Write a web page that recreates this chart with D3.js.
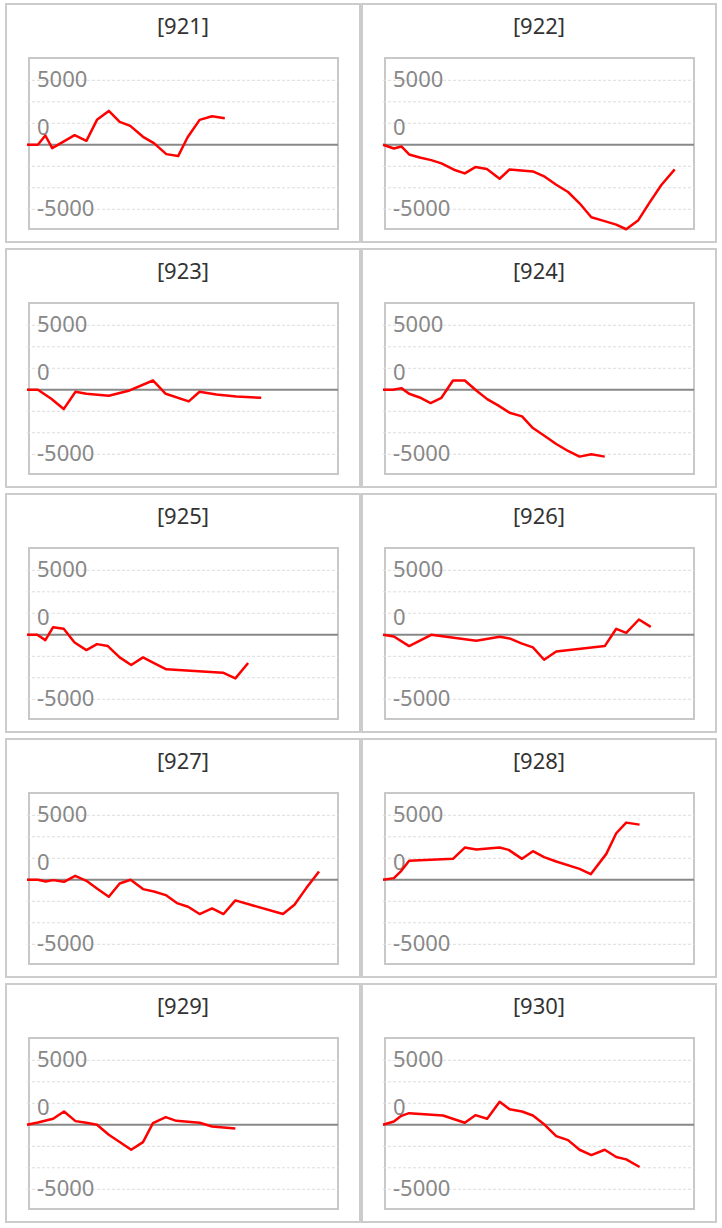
<!DOCTYPE html>
<html><head><meta charset="utf-8">
<script src="https://cdn.jsdelivr.net/npm/d3@7"></script>
<style>body{margin:0;background:#fff}svg{display:block}</style>
</head><body>
<svg id="chart" width="722" height="1228"></svg>
<script>
// ---- data ----
const panelIds = ["921","922","923","924","925","926","927","928","929","930"];
const tickValues = [5000, 0, -5000];
const gridValues = [5000, 3333, 1667, -1667, -3333, -5000];

const x921 = [0,3.5,5.9,8.1,11.6,15.3,19.1,22.5,26.3,29.8,33.2,37.3,40.8,44.8,48.6,51.6,55.5,59.5,63.6];
const y921 = [0,0,722,-258,232,747,309,1933,2629,1778,1469,619,129,-722,-876,567,1933,2216,2062];

const x922 = [0,3.5,5.9,8.4,11.8,15.5,18.8,22.8,26.3,29.7,33.4,37.5,40.7,48.2,52.0,55.7,59.5,63.2,67.0,70.7,75.0,78.2,82.0,85.7,89.5,93.8];
const y922 = [0,-284,-129,-747,-979,-1186,-1443,-1933,-2216,-1727,-1881,-2629,-1907,-2062,-2474,-3093,-3660,-4536,-5619,-5876,-6186,-6546,-5876,-4485,-3119,-1907];

const x923 = [0,3.5,7.8,11.8,15.6,19.1,26.3,33.0,40.5,44.6,52.0,55.5,60.9,67.3,75.3];
const y923 = [0,0,-696,-1495,-155,-309,-464,-52,722,-309,-902,-155,-361,-515,-619];

const x924 = [0,3.2,5.9,8.4,11.8,15.3,18.8,22.5,26.3,30.0,33.5,37.0,40.7,44.7,48.2,52.0,55.7,59.5,63.2,67.0,71.3];
const y924 = [0,0,129,-309,-593,-1031,-619,722,722,-52,-722,-1211,-1778,-2062,-2964,-3582,-4201,-4742,-5180,-5000,-5180];

const x925 = [0,3.3,5.9,8.4,11.8,15.3,19.1,22.5,26.0,29.8,33.5,37.3,41.0,44.8,63.0,67.0,71.1];
const y925 = [0,0,-412,593,464,-593,-1186,-722,-876,-1753,-2345,-1753,-2216,-2680,-2938,-3376,-2191];

const x926 = [0,3.5,8.4,15.5,30.0,37.5,40.7,44.5,48.2,51.8,55.7,71.3,75.0,78.2,82.3,86.1];
const y926 = [0,-129,-876,0,-464,-155,-284,-670,-979,-1933,-1289,-876,464,155,1186,619];

const x927 = [0,3.5,6.0,8.4,11.9,15.5,19.1,22.6,26.3,29.8,33.3,37.3,40.8,44.6,48.2,51.8,55.5,59.5,63.2,67.0,82.3,86.0,89.8,93.9];
const y927 = [0,0,-129,-26,-155,309,-77,-696,-1314,-284,0,-722,-902,-1186,-1804,-2088,-2655,-2216,-2655,-1598,-2655,-1933,-644,644];

const x928 = [0,3.5,5.9,8.4,22.5,26.3,30.0,37.5,40.4,44.7,48.2,51.8,55.7,63.2,66.8,71.8,75.0,78.2,82.5];
const y928 = [0,129,696,1469,1624,2500,2345,2500,2320,1624,2216,1753,1418,851,438,2010,3608,4433,4278];

const x929 = [0,3.5,8.4,11.9,15.6,19.1,22.5,26.3,29.8,33.5,37.3,40.5,44.6,48.0,51.8,55.5,59.5,63.2,67.0];
const y929 = [0,180,464,1031,284,155,0,-773,-1340,-1933,-1340,129,593,309,232,155,-129,-206,-284];

const x930 = [0,3.5,5.9,8.4,19.3,26.3,29.7,33.5,37.5,40.7,44.7,48.2,52.0,55.7,59.5,63.2,67.0,71.3,75.0,78.2,82.5];
const y930 = [0,258,696,902,722,155,747,464,1778,1211,1031,722,0,-876,-1186,-1933,-2345,-1933,-2500,-2680,-3273];

const seriesX = {"921":x921,"922":x922,"923":x923,"924":x924,"925":x925,"926":x926,"927":x927,"928":x928,"929":x929,"930":x930};
const seriesY = {"921":y921,"922":y922,"923":y923,"924":y924,"925":y925,"926":y926,"927":y927,"928":y928,"929":y929,"930":y930};

// ---- layout ----
const panelW = 354, panelH = 238, colStep = 356, rowStep = 245, originX = 6, originY = 4;
const plotL = 23, plotT = 54, plotW = 309, plotH = 171;
const font = "'Noto Sans', 'Open Sans', sans-serif";

const svg = d3.select("#chart");

const x = d3.scaleLinear().domain([0, 100]).range([plotL - 2, plotL - 2 + 311]);
const y = d3.scaleLinear().domain([-5000, 5000]).range([plotT + 151.3, plotT + 22.3]);

panelIds.forEach((id, i) => {
  const col = i % 2, row = Math.floor(i / 2);
  const g = svg.append("g").attr("transform", `translate(${originX + col * colStep},${originY + row * rowStep})`);

  g.append("rect").attr("width", panelW).attr("height", panelH)
    .attr("fill", "#fff").attr("stroke", "#cccccc").attr("stroke-width", 2);

  g.append("text").attr("x", panelW / 2).attr("y", 30)
    .attr("text-anchor", "middle").attr("font-family", font).attr("font-size", 22)
    .attr("fill", "#333").text(`[${id}]`);

  g.append("rect").attr("x", plotL).attr("y", plotT).attr("width", plotW).attr("height", plotH)
    .attr("fill", "#fff").attr("stroke", "#c8c8c8").attr("stroke-width", 2);

  g.selectAll(".grid").data(gridValues).join("line")
    .attr("x1", plotL - 2).attr("x2", plotL + plotW)
    .attr("y1", d => y(d)).attr("y2", d => y(d))
    .attr("stroke", "#dddddd").attr("stroke-width", 1).attr("stroke-dasharray", "3,2");

  g.selectAll(".tick").data(tickValues).join("text")
    .attr("x", plotL + 8)
    .attr("y", d => d === 0 ? y(d) - 18 : y(d) - 1)
    .attr("dy", "0.36em")
    .attr("font-family", font).attr("font-size", 22).attr("fill", "#888")
    .text(d => String(d));

  g.append("line").attr("x1", plotL - 2).attr("x2", plotL + plotW)
    .attr("y1", y(0)).attr("y2", y(0)).attr("stroke", "#888").attr("stroke-width", 2);

  const pts = seriesX[id].map((t, k) => [t, seriesY[id][k]]);
  g.append("path").datum(pts)
    .attr("fill", "none").attr("stroke", "#ff0000").attr("stroke-width", 2.5)
    .attr("stroke-linejoin", "round")
    .attr("d", d3.line().x(d => x(d[0])).y(d => y(d[1])));
});
</script>
</body></html>
